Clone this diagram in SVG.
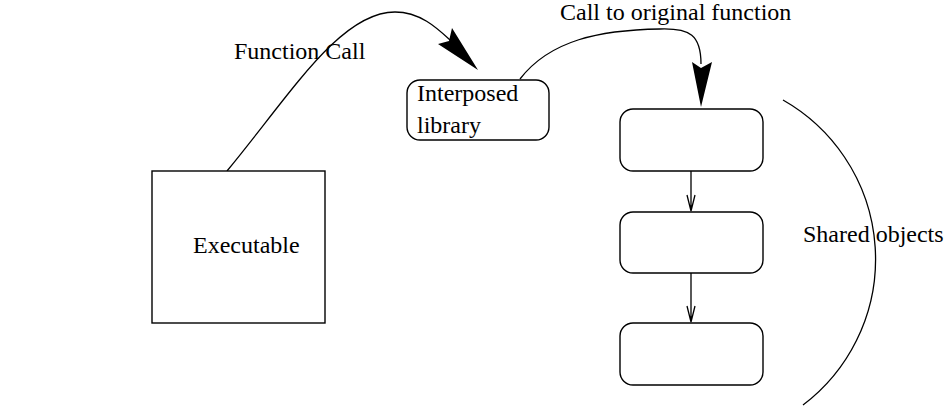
<svg xmlns="http://www.w3.org/2000/svg" width="947" height="406" viewBox="0 0 947 406">
<style>
.box{fill:#fff;stroke:#000;stroke-width:1.4}
.ln{fill:none;stroke:#000;stroke-width:1.3}
text{font-family:'Liberation Serif','Times New Roman','DejaVu Serif',serif;font-size:24px;fill:#000}
</style>
<rect width="947" height="406" fill="#fff"/>
<g id="connectors">
<path class="ln" d="M227,171 C290,95 340,12 395,12 C420,12 437,28 450,40"/>
<polygon points="478,70 438,44 449,41 452,28" fill="#000"/>
<path class="ln" d="M520,79 C550,40 600,30 660,29 C690,28 701,35 701,64"/>
<polygon points="701,107 692,62 701,68 712,62" fill="#000"/>
<path class="ln" d="M691,171 V211 M687,195 L691,211 L695,195"/>
<path class="ln" d="M691,273 V322 M687,306 L691,322 L695,306"/>
</g>
<g id="executable">
<rect class="box" x="152" y="171" width="173" height="152"/>
<text x="193" y="253" font-family="Liberation Serif, serif">Executable</text>
</g>
<g id="interposed">
<rect class="box" x="407" y="80" width="142" height="60" rx="13"/>
<text x="417" y="101" font-family="Liberation Serif, serif">Interposed</text>
<text x="417" y="133" font-family="Liberation Serif, serif">library</text>
</g>
<g id="so1"><rect class="box" x="620" y="109" width="143" height="62" rx="13"/></g>
<g id="so2"><rect class="box" x="620" y="212" width="143" height="61" rx="13"/></g>
<g id="so3"><rect class="box" x="620" y="323" width="143" height="62" rx="13"/></g>
<g id="shared">
<path class="ln" d="M783,100 A183,183 0 0 1 803,405"/>
<text x="803" y="242" font-family="Liberation Serif, serif">Shared objects</text>
</g>
<text x="234" y="59" font-family="Liberation Serif, serif">Function Call</text>
<text x="560" y="20" font-family="Liberation Serif, serif">Call to original function</text>
</svg>
